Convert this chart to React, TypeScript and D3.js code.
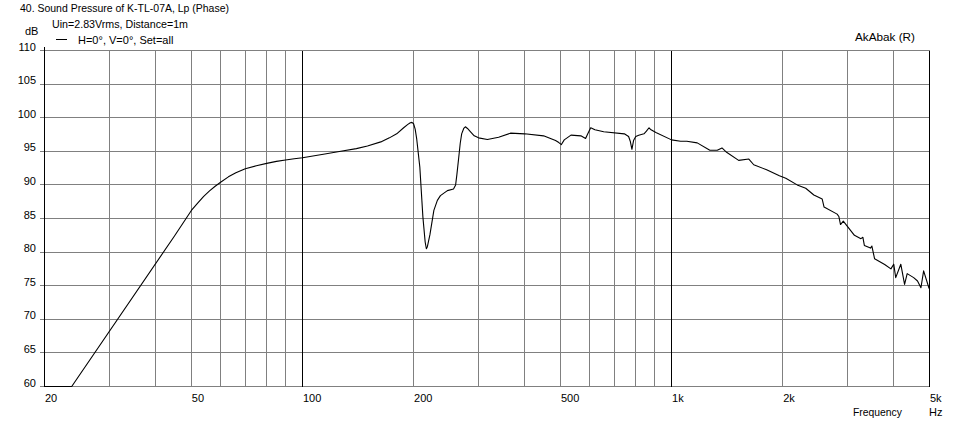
import React from "react";
import * as d3 from "d3";

const freqs = [20, 23.7, 45, 50, 52, 54, 56, 58, 60, 63, 66, 70, 75, 80, 85, 90, 95, 100, 115, 127, 140, 150, 163, 172, 180, 188, 193, 196, 198, 200, 202, 204, 208, 212, 215, 216.6, 218, 221.5, 227, 232, 236.5, 247, 256.6, 260, 262, 265, 267.6, 270, 273.5, 276.3, 280, 285.4, 292, 300, 317, 340, 366, 400, 450, 485, 495, 503, 512, 534, 568, 585, 593, 604, 620, 655, 745, 765, 773, 781, 789, 800, 815, 842, 855, 869, 880, 907, 1000, 1058, 1100, 1174, 1270, 1330, 1370, 1410, 1520, 1620, 1670, 1810, 1960, 2040, 2190, 2310, 2430, 2560, 2590, 2810, 2840, 2870, 2920, 3130, 3260, 3300, 3330, 3460, 3490, 3550, 3780, 3930, 4000, 4050, 4180, 4280, 4350, 4530, 4640, 4740, 4820, 4980, 5000];
const spl = [60, 60, 82.4, 86.2, 87.3, 88.3, 89.1, 89.8, 90.4, 91.2, 91.8, 92.4, 92.85, 93.2, 93.5, 93.7, 93.9, 94.05, 94.6, 95.0, 95.4, 95.8, 96.4, 97.0, 97.6, 98.5, 99.0, 99.25, 99.3, 99.1, 98.3, 96.8, 92.6, 85.2, 81.5, 80.5, 80.8, 82.6, 86.2, 87.7, 88.4, 89.15, 89.4, 90.0, 91.5, 94.0, 96.2, 97.6, 98.4, 98.65, 98.4, 97.9, 97.3, 97.0, 96.75, 97.1, 97.7, 97.6, 97.3, 96.6, 96.3, 96.0, 96.7, 97.4, 97.3, 96.9, 97.6, 98.5, 98.2, 97.9, 97.6, 97.2, 96.5, 95.3, 96.6, 97.2, 97.4, 97.6, 98.0, 98.5, 98.2, 97.8, 96.7, 96.5, 96.5, 96.25, 95.15, 95.15, 95.5, 94.85, 93.65, 93.85, 93.0, 92.25, 91.35, 91.0, 90.0, 89.5, 88.5, 87.9, 86.7, 85.65, 85.3, 84.1, 84.6, 82.5, 82.0, 82.2, 81.0, 80.6, 80.9, 79.0, 78.15, 77.5, 78.2, 76.2, 78.2, 75.2, 76.8, 76.2, 75.7, 74.7, 77.2, 74.7, 74.5];

const yTicks = [60, 65, 70, 75, 80, 85, 90, 95, 100, 105, 110];
const xGrid = [30, 40, 50, 60, 70, 80, 90, 200, 300, 400, 500, 600, 700, 800, 900, 2000, 3000, 4000];
const xMajor = [100, 1000, 5000];
const xLabels: [number, string][] = [[20, "20"], [50, "50"], [100, "100"], [200, "200"], [500, "500"], [1000, "1k"], [2000, "2k"], [5000, "5k"]];

const title = "40. Sound Pressure of K-TL-07A, Lp (Phase)";
const subtitle = "Uin=2.83Vrms, Distance=1m";
const legendLabel = "H=0°, V=0°, Set=all";

export default function App() {
  const x = d3.scaleLog().domain([20, 5000]).range([44.5, 929.5]);
  const y = d3.scaleLinear().domain([60, 110]).range([386.5, 50.5]);
  const line = d3
    .line<number>()
    .x((_, i) => x(freqs[i]))
    .y((d) => y(d))
    .curve(d3.curveLinear);
  const font = "'Liberation Sans', Arial, sans-serif";
  const grid = "#808080";
  return (
    <svg width={955} height={423} style={{ position: "absolute", left: 0, top: 0, background: "#fff" }} fontFamily={font} fontSize={11}>
      <rect x={0} y={0} width={955} height={423} fill="#fff" />
      <g shapeRendering="crispEdges">
        {yTicks.map((t) => (
          <line key={"h" + t} x1={40} x2={929.5} y1={y(t)} y2={y(t)} stroke={grid} />
        ))}
        {xGrid.map((f) => (
          <line key={"v" + f} x1={x(f)} x2={x(f)} y1={50.5} y2={387} stroke={grid} />
        ))}
        {xMajor.map((f) => (
          <line key={"m" + f} x1={x(f)} x2={x(f)} y1={50.5} y2={387} stroke="#000" />
        ))}
        <line x1={x(20)} x2={x(20)} y1={47} y2={387} stroke="#000" />
      </g>
      <path d={line(spl) || ""} fill="none" stroke="#000" strokeWidth={1.1} strokeLinejoin="round" />
      {yTicks.map((t) => (
        <text key={"yl" + t} x={36} y={y(t)} textAnchor="end">{t}</text>
      ))}
      {xLabels.map(([f, l]) => (
        <text key={"xl" + f} x={x(f) + 0.5} y={402}>{l}</text>
      ))}
      <text x={20} y={12} textLength={209} lengthAdjust="spacingAndGlyphs">{title}</text>
      <text x={52} y={28} textLength={136} lengthAdjust="spacingAndGlyphs">{subtitle}</text>
      <text x={25} y={35}>dB</text>
      <line x1={56} x2={67} y1={39.5} y2={39.5} stroke="#000" shapeRendering="crispEdges" />
      <text x={78} y={44}>{legendLabel}</text>
      <text x={855} y={41} textLength={60} lengthAdjust="spacingAndGlyphs">AkAbak (R)</text>
      <text x={853} y={416} textLength={49} lengthAdjust="spacingAndGlyphs">Frequency</text>
      <text x={929} y={416}>Hz</text>
    </svg>
  );
}
